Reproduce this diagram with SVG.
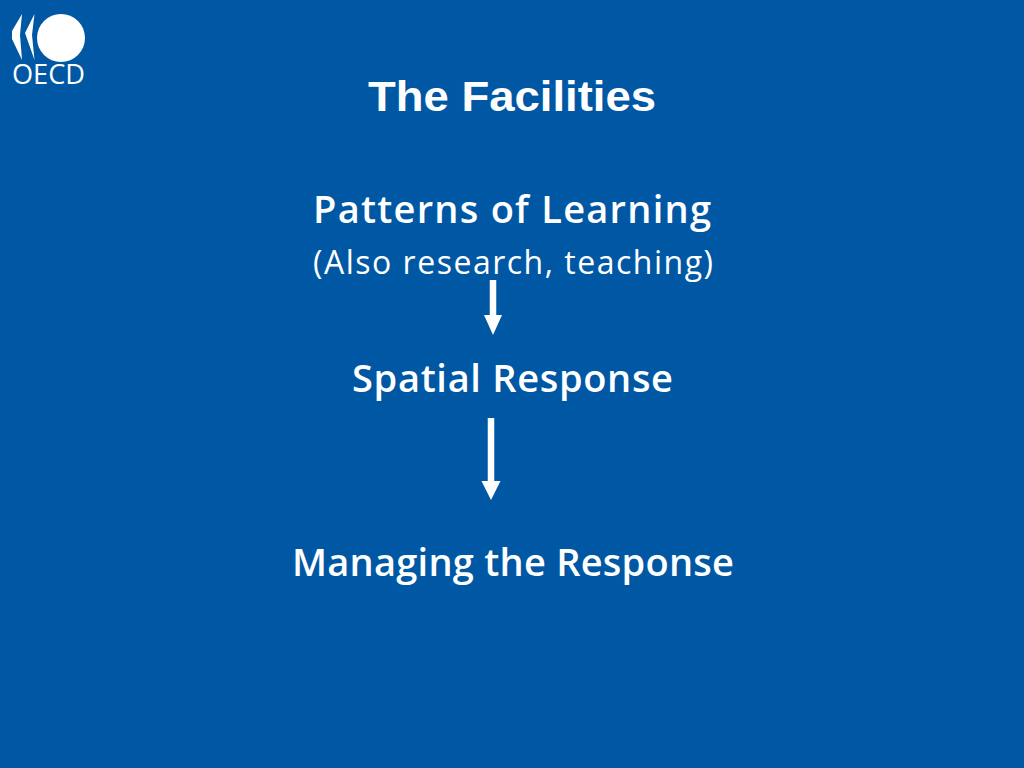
<svg xmlns="http://www.w3.org/2000/svg" width="1024" height="768" viewBox="0 0 1024 768">
<style>
text{fill:#fff}
.title{font:bold 42px "Liberation Sans",Arial,sans-serif}
.head{font:600 38px "Open Sans",sans-serif}
.sub{font:32px "Open Sans",sans-serif}
.conn{stroke:#fff;stroke-width:6.500;fill:none}
.tip{fill:#fff}
</style>
<rect width="1024" height="768" fill="#0058a4"/>
<g id="logo">
<circle cx="61" cy="38" r="24" fill="#fff"/>
<path d="M22 14 L12 31 V39 L22 60 L20 35 Z" fill="#fff"/>
<path d="M34.500 14 L25 33 L34.500 60 L32 35 Z" fill="#fff"/>
<text x="12" y="83.500" font-family="'Open Sans',sans-serif" font-weight="500" font-size="28" textLength="73" lengthAdjust="spacingAndGlyphs">OECD</text>
</g>
<g id="title"><text class="title" x="512" y="111" text-anchor="middle" textLength="288" lengthAdjust="spacingAndGlyphs">The Facilities</text></g>
<g id="patterns"><text class="head" x="313" y="223" textLength="398" lengthAdjust="spacing">Patterns of Learning</text></g>
<g id="also"><text class="sub" x="313" y="274" textLength="400" lengthAdjust="spacing">(Also research, teaching)</text></g>
<g id="spatial"><text class="head" x="352" y="392" textLength="321" lengthAdjust="spacing">Spatial Response</text></g>
<g id="managing"><text class="head" x="292" y="576" textLength="442" lengthAdjust="spacing">Managing the Response</text></g>
<g id="connectors">
<path class="conn" d="M493 280V316"/>
<path class="tip" d="M484 315H502L493 335Z"/>
<path class="conn" d="M491 418V482"/>
<path class="tip" d="M481.500 481H500.500L491 500Z"/>
</g>
</svg>
